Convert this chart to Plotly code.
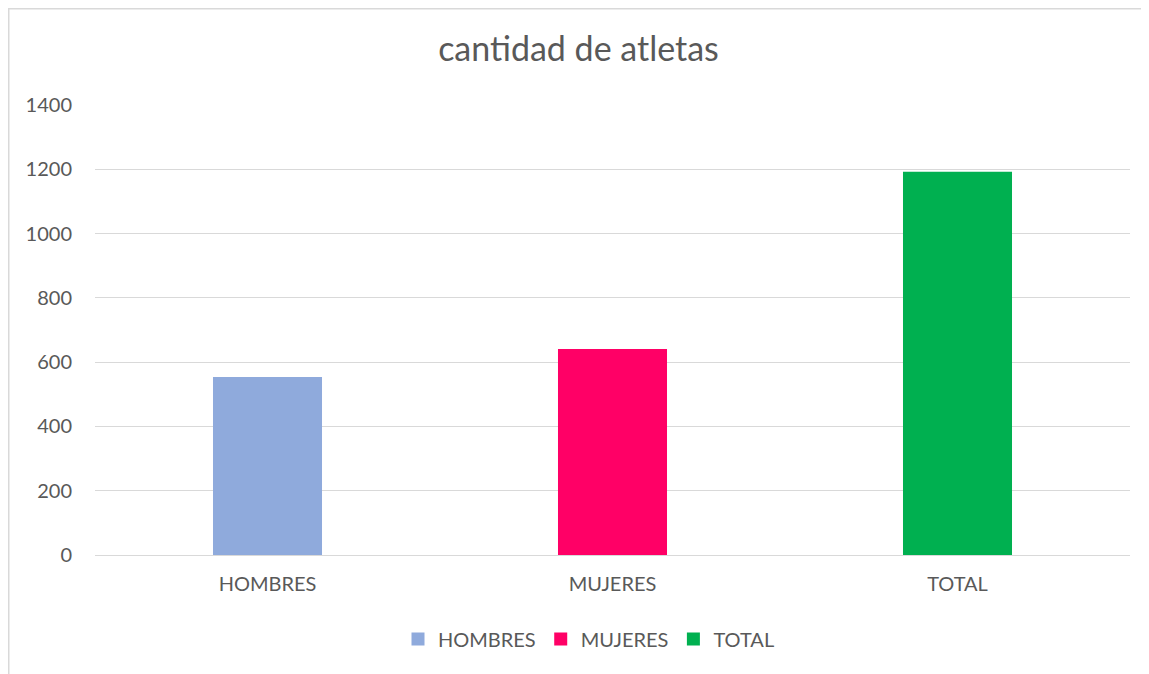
import plotly.graph_objects as go

categories = ["HOMBRES", "MUJERES", "TOTAL"]
values = [554, 641, 1192]
colors = ["#8faadc", "#ff0066", "#00b050"]
y_ticks = [0, 200, 400, 600, 800, 1000, 1200, 1400]

fig = go.Figure()
for cat, val, col in zip(categories, values, colors):
    fig.add_trace(go.Bar(x=[cat], y=[val], name=cat, showlegend=False,
                         marker=dict(color=col, line=dict(width=0))))
# legend entries with larger square swatches
for cat, col in zip(categories, colors):
    fig.add_trace(go.Scatter(x=[None], y=[None], mode="markers", name=cat,
                             marker=dict(symbol="square", size=13, color=col, line=dict(width=0))))

# page body has an 8px margin; figure pixel = screen pixel - 8
OFF = 8
W, H = 1149 - OFF, 674 - OFF
L, R, T, B = 95 - OFF, 19, 105 - OFF, 119
pw, ph = W - L - R, H - T - B

def px2x(px):
    return (px - OFF - L) / pw

def px2y(py):
    return (H - B - (py - OFF)) / ph

fig.update_layout(
    width=W, height=H,
    margin=dict(l=L, r=R, t=T, b=B),
    paper_bgcolor="white", plot_bgcolor="white",
    barmode="overlay", bargap=0.684,
    font=dict(family="Lato, Noto Sans, sans-serif", color="#595959", size=20),
    title=dict(text="cantidad de atletas", x=0.5, xanchor="center", y=1 - (49 - OFF) / H, yanchor="middle",
               font=dict(size=34, color="#595959")),
    showlegend=True,
    legend=dict(orientation="h", x=px2x(589), xanchor="center", y=px2y(639), yanchor="middle",
                font=dict(size=20, color="#595959"), itemwidth=30, traceorder="normal"),
    xaxis=dict(showgrid=False, showline=False, ticks="", tickfont=dict(size=20, color="#595959"),
               ticklabelstandoff=15),
    yaxis=dict(range=[0, 1400], tickvals=y_ticks, showgrid=True, gridcolor="#d9d9d9", gridwidth=1,
               zeroline=True, zerolinecolor="#d9d9d9", zerolinewidth=1, showline=False,
               ticks="", tickfont=dict(size=20, color="#595959"), ticklabelstandoff=22),
    shapes=[
        dict(type="line", xref="paper", yref="paper", x0=px2x(OFF), x1=px2x(1149), y0=px2y(OFF + 0.75), y1=px2y(OFF + 0.75),
             line=dict(color="#d9d9d9", width=1.5)),
        dict(type="line", xref="paper", yref="paper", x0=px2x(OFF + 0.75), x1=px2x(OFF + 0.75), y0=px2y(OFF), y1=px2y(674),
             line=dict(color="#d9d9d9", width=1.5)),
    ],
)

fig.write_html("out.html")
